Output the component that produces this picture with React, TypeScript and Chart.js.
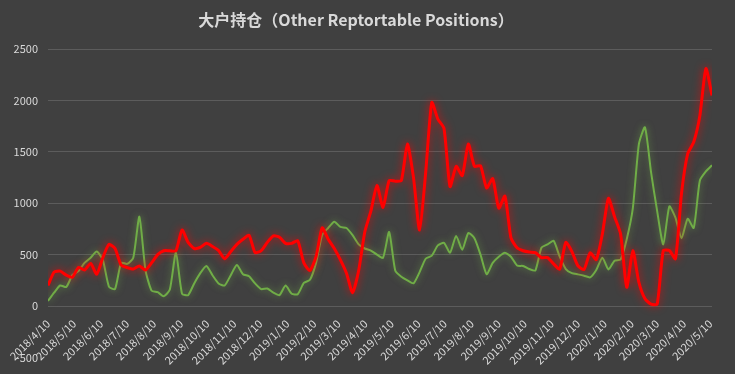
import React, { useEffect, useRef } from "react";
import { Chart, registerables } from "chart.js";

Chart.register(...registerables);

const chartTitle = "大户持仓（Other Reptortable Positions）";

const tickLabels = [
  "2018/4/10", "2018/5/10", "2018/6/10", "2018/7/10", "2018/8/10", "2018/9/10",
  "2018/10/10", "2018/11/10", "2018/12/10", "2019/1/10", "2019/2/10", "2019/3/10",
  "2019/4/10", "2019/5/10", "2019/6/10", "2019/7/10", "2019/8/10", "2019/9/10",
  "2019/10/10", "2019/11/10", "2019/12/10", "2020/1/10", "2020/2/10", "2020/3/10",
  "2020/4/10", "2020/5/10",
];

const startDate = "2018/4/10";
const weekDays = 7;

// weekly values, red series
const redValues = [
  200, 330, 340, 300, 280, 375, 350, 415, 310, 470,
  600, 560, 400, 375, 360, 390, 350, 420, 500, 538,
  538, 538, 740, 620, 560, 570, 610, 580, 540, 460,
  530, 600, 650, 690, 520, 540, 620, 683, 670, 610,
  610, 635, 420, 346, 480, 760, 650, 560, 450, 320,
  130, 346, 720, 923, 1173, 960, 1221, 1215, 1221, 1577,
  1250, 740, 1300, 1981, 1820, 1730, 1163, 1360, 1270, 1577,
  1360, 1365, 1150, 1240, 952, 1070, 663, 567, 538, 525,
  519, 471, 471, 410, 360, 620, 530, 390, 356, 519,
  452, 700, 1048, 870, 700, 183, 538, 230, 70, 19,
  19, 540, 540, 460, 1100, 1480, 1596, 1850, 2310, 2050,
];

// weekly values, green series
const greenValues = [
  50, 130, 200, 185, 300, 340, 420, 470, 530, 450,
  190, 165, 420, 410, 470, 870, 350, 150, 135, 95,
  160, 520, 120, 106, 220, 320, 390, 300, 220, 200,
  300, 400, 310, 290, 220, 165, 170, 130, 106, 200,
  120, 115, 225, 255, 420, 690, 760, 820, 770, 760,
  690, 600, 560, 540, 500, 470, 720, 346, 285, 250,
  221, 330, 460, 490, 590, 615, 519, 683, 548, 711,
  660, 500, 310, 420, 480, 519, 480, 394, 390, 360,
  346, 567, 600, 635, 480, 360, 320, 308, 295, 279,
  350, 471, 356, 440, 452, 650, 950, 1577, 1740, 1300,
  923, 600, 970, 860, 660, 850, 760, 1220, 1310, 1370,
];

const BG = "#404040";
const TEXT = "#d9d9d9";
const GRID = "#5c5c5c";
const RED = "#ff0000";
const GREEN = "#70ad47";

function dayOffset(label: string): number {
  const [y0, m0, d0] = startDate.split("/").map(Number);
  const [y, m, d] = label.split("/").map(Number);
  return Math.round((Date.UTC(y, m - 1, d) - Date.UTC(y0, m0 - 1, d0)) / 86400000);
}

const glowPlugin = {
  id: "glow",
  beforeDraw(chart: any) {
    const { ctx, width, height } = chart;
    ctx.save();
    ctx.fillStyle = BG;
    ctx.fillRect(0, 0, width, height);
    ctx.restore();
  },
  beforeDatasetDraw(chart: any, args: any) {
    const ctx = chart.ctx;
    ctx.save();
    const ds = chart.data.datasets[args.index];
    ctx.shadowColor = ds.glowColor;
    ctx.shadowBlur = ds.glowBlur;
  },
  afterDatasetDraw(chart: any) {
    chart.ctx.restore();
  },
};

export default function App() {
  const canvasRef = useRef<HTMLCanvasElement | null>(null);

  useEffect(() => {
    document.body.style.margin = "0";
    document.body.style.background = BG;
    const canvas = canvasRef.current;
    if (!canvas) return;
    const tickDays = tickLabels.map(dayOffset);
    const toPoints = (vals: number[]) => vals.map((v, i) => ({ x: i * weekDays, y: v }));
    const fontFamily = "'Noto Sans CJK SC', 'Noto Sans', sans-serif";

    const chart = new Chart(canvas, {
      type: "line",
      data: {
        datasets: [
          {
            label: "red",
            data: toPoints(redValues),
            borderColor: RED,
            borderWidth: 3,
            pointRadius: 0,
            tension: 0.2,
            fill: false,
            glowColor: "rgba(255,0,0,0.8)",
            glowBlur: 8,
          } as any,
          {
            label: "green",
            data: toPoints(greenValues),
            borderColor: GREEN,
            borderWidth: 2,
            pointRadius: 0,
            tension: 0.2,
            fill: false,
            glowColor: "rgba(112,173,71,0.7)",
            glowBlur: 7,
          } as any,
        ],
      },
      options: {
        responsive: false,
        animation: false,
        events: [],
        layout: { padding: { left: 0, right: 23, top: 0, bottom: 8 } },
        plugins: {
          legend: { display: false },
          tooltip: { enabled: false },
          title: {
            display: true,
            text: chartTitle,
            color: TEXT,
            font: { family: fontFamily, size: 16, weight: "bold", lineHeight: 1.2 },
            padding: { top: 10, bottom: 20 },
          },
        },
        scales: {
          x: {
            type: "linear",
            position: { y: 0 } as any,
            min: 0,
            max: (redValues.length - 1) * weekDays,
            grid: { display: false },
            border: { display: false },
            afterBuildTicks(scale: any) {
              scale.ticks = tickDays.map((v) => ({ value: v }));
            },
            ticks: {
              autoSkip: false,
              minRotation: 45,
              maxRotation: 45,
              padding: 3,
              color: TEXT,
              font: { family: fontFamily, size: 11 },
              callback: (_v: any, i: number) => tickLabels[i],
            },
          },
          y: {
            min: -500,
            max: 2500,
            afterFit(scale: any) {
              scale.width = 48;
            },
            border: { display: false },
            grid: {
              drawTicks: false,
              color: (c: any) => (c.tick && c.tick.value === -500 ? "rgba(0,0,0,0)" : GRID),
              lineWidth: 1,
            },
            ticks: {
              stepSize: 500,
              padding: 10,
              color: TEXT,
              font: { family: fontFamily, size: 11 },
              callback: (v: any) => String(v),
            },
          },
        },
      },
      plugins: [glowPlugin],
    });

    return () => chart.destroy();
  }, []);

  return (
    <div style={{ width: 735, height: 374, background: BG }}>
      <canvas ref={canvasRef} width={735} height={374} style={{ display: "block" }} />
    </div>
  );
}
